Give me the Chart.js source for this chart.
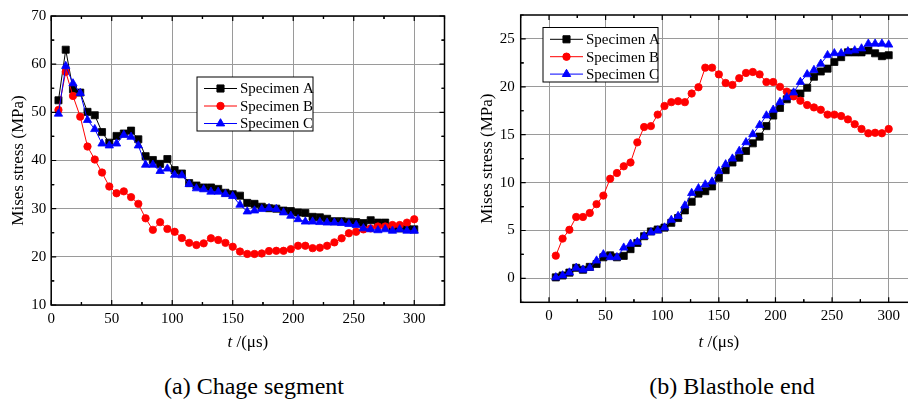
<!DOCTYPE html>
<html>
<head>
<meta charset="utf-8">
<script src="https://cdn.jsdelivr.net/npm/chart.js@4/dist/chart.umd.min.js"></script>
<style>
  html, body { margin: 0; padding: 0; background: #fff; }
  body { width: 908px; height: 402px; position: relative; overflow: hidden; font-family: "Liberation Serif", serif; }
  canvas { position: absolute; top: 0; }
  #left { left: 0; }
  #right { left: 460px; }
  .cap { position: absolute; top: 372px; font-size: 24px; line-height: 28px; white-space: nowrap; transform: translateX(-50%); }
</style>
</head>
<body>
<canvas id="left" width="460" height="360"></canvas>
<canvas id="right" width="472" height="360"></canvas>
<div class="cap" style="left:254px">(a) Chage segment</div>
<div class="cap" style="left:732px">(b) Blasthole end</div>
<script>
// time points, µs
var times = [6, 12, 18, 24, 30, 36, 42, 48, 54, 60, 66, 72, 78, 84, 90, 96, 102, 108, 114, 120,
             126, 132, 138, 144, 150, 156, 162, 168, 174, 180, 186, 192, 198, 204, 210, 216, 222, 228, 234, 240,
             246, 252, 258, 264, 270, 276, 282, 288, 294, 300];

var seriesNames = ['Specimen A', 'Specimen B', 'Specimen C'];

// tick values
var xTicks = [0, 50, 100, 150, 200, 250, 300];
var yTicksCharge = [10, 20, 30, 40, 50, 60, 70];
var yTicksHole = [0, 5, 10, 15, 20, 25];

// (a) charge segment
var chargeA = [52.5, 63.0, 54.8, 54.1, 50.1, 49.4, 45.9, 43.7, 45.1, 45.6, 46.2, 44.4, 40.9, 40.1, 39.3, 40.3, 38.0, 37.3, 35.3, 34.8,
               34.4, 34.4, 34.1, 33.3, 33.0, 32.7, 31.2, 31.0, 30.4, 30.1, 30.0, 29.6, 29.5, 29.2, 29.1, 28.3, 28.2, 27.9, 27.4, 27.4,
               27.3, 27.2, 27.0, 27.6, 27.1, 27.1, 25.9, 25.9, 25.8, 25.7];
var chargeB = [50.5, 58.4, 53.4, 49.1, 42.9, 40.2, 37.5, 34.6, 33.2, 33.6, 32.4, 31.0, 28.0, 25.6, 27.2, 25.8, 25.2, 23.9, 22.9, 22.45,
               22.8, 23.85, 23.5, 22.9, 22.1, 21.1, 20.6, 20.6, 20.7, 21.2, 21.25, 21.25, 21.6, 22.3, 22.3, 21.8, 21.9, 22.3, 23.0, 23.85,
               24.9, 25.2, 25.7, 25.9, 26.3, 26.3, 26.6, 26.6, 27.1, 27.8];
var chargeC = [49.7, 59.6, 56.0, 54.0, 48.4, 46.5, 43.5, 43.1, 43.5, 45.3, 44.9, 43.1, 39.1, 39.1, 37.8, 38.3, 37.0, 36.9, 35.1, 34.2,
               34.0, 33.5, 33.5, 33.0, 32.6, 30.8, 29.4, 29.6, 29.9, 30.1, 29.9, 29.2, 28.5, 27.8, 27.3, 27.3, 27.2, 27.1, 27.1, 27.0,
               26.8, 26.6, 25.9, 25.7, 25.5, 25.7, 25.4, 25.7, 25.4, 25.4];

// (b) blasthole end
var holeA = [0.1, 0.3, 0.6, 1.1, 0.9, 1.2, 1.5, 2.2, 2.4, 2.2, 2.35, 3.05, 3.7, 4.4, 4.9, 5.1, 5.3, 5.8, 6.3, 7.1,
             8.0, 8.85, 9.1, 9.6, 10.5, 11.3, 12.1, 12.6, 13.3, 14.1, 14.8, 15.9, 17.0, 17.8, 18.7, 19.3, 19.3, 19.9, 21.05, 21.6,
             21.9, 22.6, 23.1, 23.6, 23.6, 23.6, 23.8, 23.5, 23.2, 23.3];
var holeB = [2.37, 4.15, 5.07, 6.41, 6.41, 6.82, 7.75, 8.64, 10.4, 11.0, 11.7, 12.1, 14.2, 15.8, 15.9, 17.1, 18.0, 18.4, 18.5, 18.4,
             19.3, 19.96, 22.0, 22.0, 21.3, 20.4, 20.2, 20.9, 21.45, 21.55, 21.3, 20.5, 20.5, 20.0, 19.5, 19.0, 18.55, 18.1, 17.85, 17.6,
             17.1, 17.1, 16.95, 16.6, 16.1, 15.6, 15.15, 15.2, 15.15, 15.6];
var holeC = [0.1, 0.3, 0.6, 1.1, 0.9, 1.1, 1.85, 2.5, 2.2, 2.2, 3.2, 3.6, 3.8, 4.4, 4.8, 5.0, 5.3, 6.1, 6.5, 7.6,
             8.9, 9.4, 9.8, 10.1, 11.2, 11.9, 12.5, 13.3, 14.2, 15.05, 16.0, 17.0, 17.6, 18.4, 18.9, 19.4, 20.5, 21.3, 21.75, 22.4,
             23.3, 23.5, 23.5, 23.7, 23.8, 24.0, 24.5, 24.5, 24.5, 24.4];

var FONT = '"Liberation Serif", "Times New Roman", serif';
var colors = ['#000000', '#ff0000', '#0000ff'];
var styles = [
  { pointStyle: 'rect', radius: 5 },
  { pointStyle: 'circle', radius: 3.7 },
  { pointStyle: 'triangle', radius: 4.8 }
];

function pts(vals) {
  return vals.map(function(v, i) { return { x: times[i], y: v }; });
}

function makeDatasets(lists) {
  return lists.map(function(vals, i) {
    return {
      label: seriesNames[i],
      data: pts(vals),
      borderColor: colors[i],
      backgroundColor: colors[i],
      borderWidth: 1,
      pointStyle: styles[i].pointStyle,
      pointRadius: styles[i].radius,
      pointBorderWidth: 0.8,
      order: 3 - i
    };
  });
}

function fixedTicks(list) {
  return function(scale) {
    scale.ticks = list.map(function(v) { return { value: v }; });
  };
}

// frame, inward ticks, axis titles, boxed legend
var decor = {
  id: 'decor',
  afterDatasetsDraw: function(chart, args, o) {
    var ctx = chart.ctx, a = chart.chartArea, x = chart.scales.x, y = chart.scales.y;
    ctx.save();
    ctx.strokeStyle = '#000';
    ctx.lineWidth = 1.5;
    ctx.strokeRect(a.left, a.top, a.right - a.left, a.bottom - a.top);

    ctx.lineWidth = 1.2;
    function vtick(v, len) {
      var px = x.getPixelForValue(v);
      ctx.beginPath();
      ctx.moveTo(px, a.bottom); ctx.lineTo(px, a.bottom - len);
      ctx.moveTo(px, a.top); ctx.lineTo(px, a.top + len);
      ctx.stroke();
    }
    function htick(v, len) {
      var py = y.getPixelForValue(v);
      ctx.beginPath();
      ctx.moveTo(a.left, py); ctx.lineTo(a.left + len, py);
      ctx.moveTo(a.right, py); ctx.lineTo(a.right - len, py);
      ctx.stroke();
    }
    x.ticks.forEach(function(t) {
      vtick(t.value, 5);
      if (t.value + o.xStep / 2 <= x.max) vtick(t.value + o.xStep / 2, 3);
      if (t.value - o.xStep / 2 >= x.min) vtick(t.value - o.xStep / 2, 3);
    });
    y.ticks.forEach(function(t) {
      htick(t.value, 5);
      if (t.value + o.yStep / 2 <= y.max) htick(t.value + o.yStep / 2, 3);
      if (t.value - o.yStep / 2 >= y.min) htick(t.value - o.yStep / 2, 3);
    });

    // y title
    ctx.fillStyle = '#000';
    ctx.font = '17px ' + FONT;
    ctx.textAlign = 'center';
    ctx.textBaseline = 'middle';
    ctx.save();
    ctx.translate(o.yTitleX, (a.top + a.bottom) / 2);
    ctx.rotate(-Math.PI / 2);
    ctx.fillText('Mises stress (MPa)', 0, 0);
    ctx.restore();

    // x title with italic t
    var cx = (a.left + a.right) / 2, ty = o.xTitleY;
    ctx.font = 'italic 17px ' + FONT;
    var w1 = ctx.measureText('t').width;
    ctx.font = '17px ' + FONT;
    var rest = ' /(\u03bcs)';
    var w2 = ctx.measureText(rest).width;
    var sx = cx - (w1 + w2) / 2;
    ctx.textAlign = 'left';
    ctx.font = 'italic 17px ' + FONT;
    ctx.fillText('t', sx, ty);
    ctx.font = '17px ' + FONT;
    ctx.fillText(rest, sx + w1, ty);

    // legend
    var L = o.legend;
    ctx.fillStyle = '#fff';
    ctx.fillRect(L.x, L.y, L.w, L.h);
    ctx.strokeStyle = '#000';
    ctx.lineWidth = 1;
    ctx.strokeRect(L.x, L.y, L.w, L.h);
    chart.data.datasets.forEach(function(ds, i) {
      var ry = L.y + L.first + i * L.gap;
      ctx.strokeStyle = ds.borderColor;
      ctx.lineWidth = 1;
      ctx.beginPath();
      ctx.moveTo(L.x + 7, ry); ctx.lineTo(L.x + 40, ry);
      ctx.stroke();
      ctx.fillStyle = ds.backgroundColor;
      Chart.helpers.drawPoint(ctx, { pointStyle: ds.pointStyle, radius: ds.pointRadius, rotation: 0, borderWidth: 0.8 }, L.x + 23.5, ry);
      ctx.fillStyle = '#000';
      ctx.font = '15px ' + FONT;
      ctx.textAlign = 'left';
      ctx.textBaseline = 'middle';
      ctx.fillText(ds.label, L.x + 43, ry + 1);
    });
    ctx.restore();
  }
};

function makeChart(id, lists, cfg) {
  return new Chart(document.getElementById(id), {
    type: 'line',
    data: { datasets: makeDatasets(lists) },
    plugins: [decor],
    options: {
      responsive: false,
      animation: false,
      devicePixelRatio: 1,
      layout: { padding: { top: cfg.top, right: cfg.right, left: 0, bottom: 0 } },
      plugins: { legend: { display: false }, tooltip: { enabled: false }, decor: cfg.decor },
      scales: {
        x: {
          type: 'linear', min: cfg.xMin, max: cfg.xMax,
          afterBuildTicks: fixedTicks(xTicks),
          afterFit: function(s) { s.height = cfg.xHeight; },
          grid: { color: '#9a9a9a', lineWidth: 1, drawTicks: false },
          border: { display: false },
          ticks: { padding: 5, color: '#000', font: { family: FONT, size: 15 } }
        },
        y: {
          min: cfg.yMin, max: cfg.yMax,
          afterBuildTicks: fixedTicks(cfg.yTicks),
          afterFit: function(s) { s.width = cfg.yWidth; },
          grid: { color: '#9a9a9a', lineWidth: 1, drawTicks: false },
          border: { display: false },
          ticks: { padding: cfg.yPad, color: '#000', font: { family: FONT, size: 15 } }
        }
      }
    }
  });
}

makeChart('left', [chargeA, chargeB, chargeC], {
  top: 16, right: 15.5, xHeight: 55, yWidth: 51.2,
  xMin: 0, xMax: 325, yMin: 10, yMax: 70, yTicks: yTicksCharge, yPad: 5,
  decor: { xStep: 50, yStep: 10, yTitleX: 19, xTitleY: 343,
           legend: { x: 197, y: 77, w: 116, h: 54, first: 11.5, gap: 17.5 } }
});

makeChart('right', [holeA, holeB, holeC], {
  top: 10, right: 15, xHeight: 57.7, yWidth: 60.7,
  xMin: -25, xMax: 325, yMin: -2.5, yMax: 27.5, yTicks: yTicksHole, yPad: 6,
  decor: { xStep: 50, yStep: 5, yTitleX: 28, xTitleY: 343,
           legend: { x: 83, y: 27.5, w: 115, h: 54.5, first: 11.8, gap: 17.4 } }
});
</script>
</body>
</html>
